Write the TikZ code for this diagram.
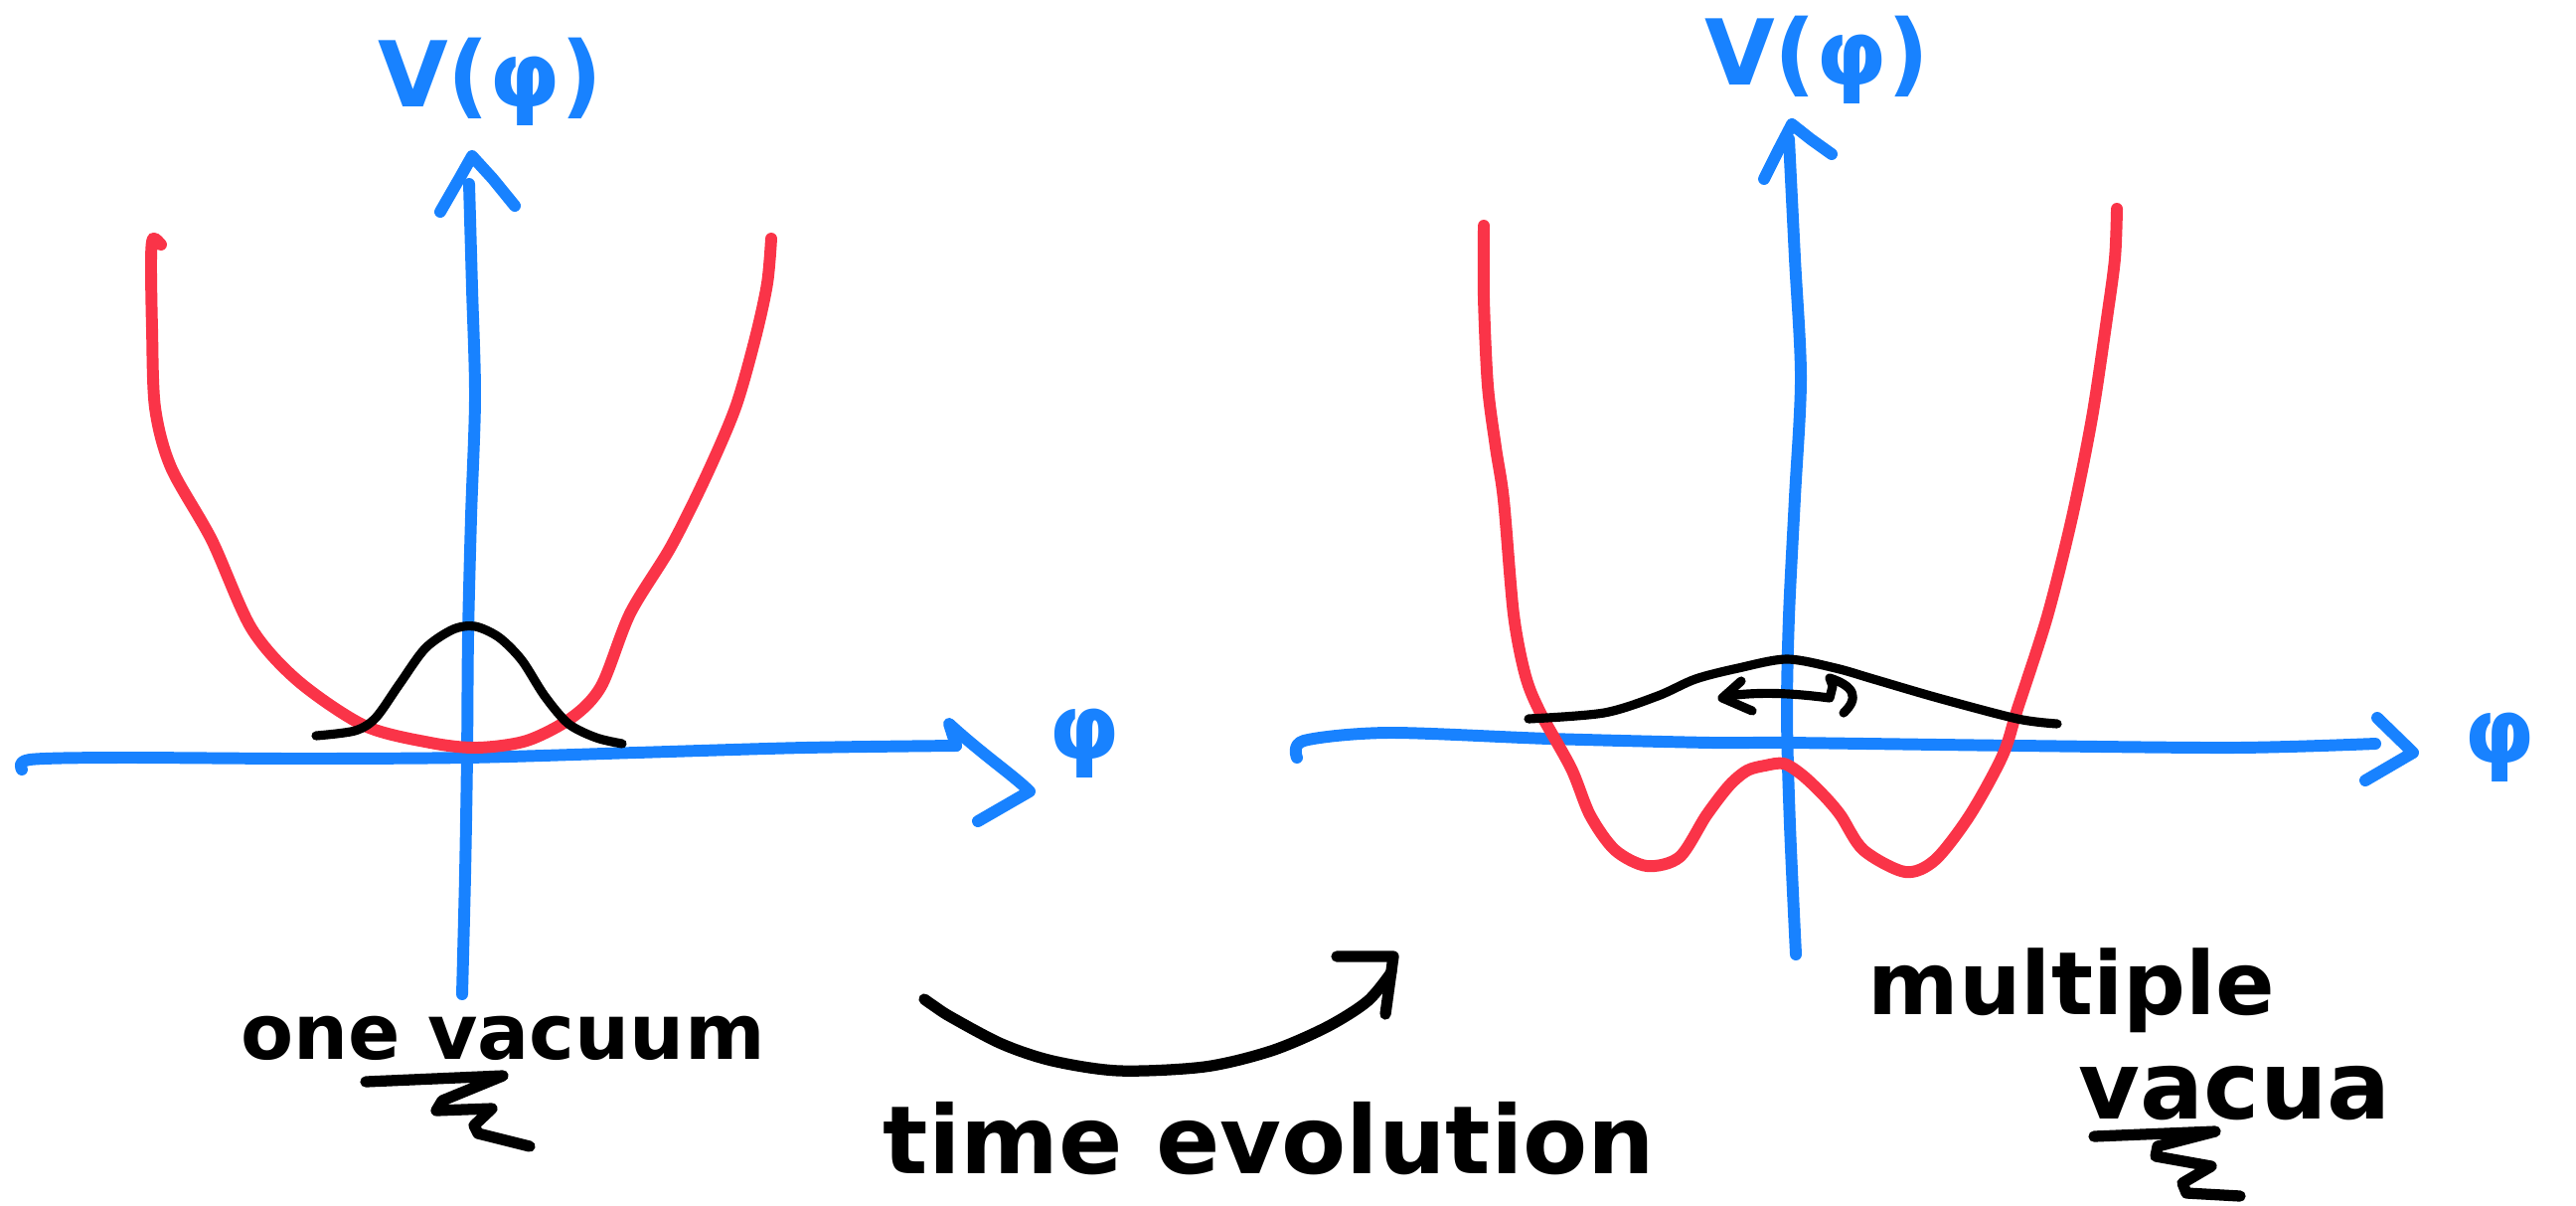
\documentclass[tikz,border=0pt]{standalone}
\usepackage{fontspec}
\newfontfamily\handfont{DejaVu Sans}
\definecolor{axisblue}{RGB}{24,130,255}
\definecolor{potred}{RGB}{250,52,72}
\tikzset{
  axisline/.style={draw=axisblue,line width=3.4pt,line cap=round,line join=round},
  potline/.style={draw=potred,line width=3.4pt,line cap=round,line join=round},
  waveline/.style={draw=black,line width=2.6pt,line cap=round,line join=round},
  inkline/.style={draw=black,line width=3.2pt,line cap=round,line join=round},
  bluelab/.style={text=axisblue,font=\handfont\bfseries\fontsize{26}{30}\selectfont,inner sep=0pt},
  capt/.style={text=black,font=\handfont\bfseries\fontsize{#1}{#1}\selectfont,inner sep=0pt},
}
\begin{document}
\begin{tikzpicture}[x=0.01cm,y=-0.01cm]
  \useasboundingbox (0,0) rectangle (2592,1212);
  \node[bluelab] (vlabL) at (493,82) {V(φ)};
  \draw[axisline] plot[smooth] coordinates {(472,185) (475,290) (478,400) (474,520) (471,640) (470,760) (468,880) (465,1000)};
  \draw[axisline] (443,213) -- (462,180) -- (475,157) -- (496,180) -- (518,207);
  \draw[axisline] plot[smooth] coordinates {(22,774) (30,764) (120,762) (300,763) (470,762) (640,757) (810,752) (962,750)};
  \draw[axisline] (962,750) -- (955,728) .. controls (990,760) and (1020,780) .. (1036,796) -- (984,826);
  \node[bluelab] (phiL) at (1091,748) {φ};
  \draw[potline] plot[smooth] coordinates {(162,246) (154,240) (152,262) (153,330) (156,410) (172,470) (213,543) (253,632) (300,685) (367,730) (433,747) (480,752) (530,745) (575,722) (605,690) (634,617) (675,550) (710,480) (740,410) (760,340) (772,285) (776,240)};
  \draw[waveline] plot[smooth] coordinates {(318,740) (357,735) (378,722) (402,688) (428,652) (456,633) (478,630) (502,641) (525,664) (548,700) (572,728) (600,742) (626,748)};
  \node[capt=22,anchor=base west] (oneVac) at (242,1065) {one vacuum};
  \draw[inkline] (368,1088) -- (506,1082) -- (445,1107) -- (439,1117) -- (495,1115) -- (477,1132) -- (481,1140) -- (533,1153);
  \draw[inkline] plot[smooth] coordinates {(930,1005) (940,1012) (957,1023) (1008,1050) (1059,1067) (1126,1077) (1212,1073) (1279,1057) (1335,1033) (1376,1007) (1400,978)};
  \draw[inkline] (1345,962) -- (1402,962) -- (1394,1020);
  \node[capt=27,anchor=base west] (timeEvo) at (888,1180) {time evolution};
  \node[bluelab] (vlabR) at (1828,60) {V(φ)};
  \draw[axisline] plot[smooth] coordinates {(1800,140) (1806,260) (1812,380) (1806,500) (1800,620) (1798,720) (1801,830) (1807,960)};
  \draw[axisline] (1775,180) -- (1790,150) -- (1803,125) -- (1822,140) -- (1843,155);
  \draw[axisline] plot[smooth] coordinates {(1305,762) (1312,745) (1397,737) (1559,743) (1722,747) (1798,747) (2030,750) (2250,752) (2390,748)};
  \draw[axisline] (2392,722) -- (2428,757) -- (2380,785);
  \node[bluelab] (phiR) at (2515,752) {φ};
  \draw[potline] plot[smooth] coordinates {(1493,227) (1493,300) (1497,388) (1505,450) (1513,503) (1523,618) (1535,680) (1550,717) (1581,773) (1600,820) (1625,855) (1657,871) (1690,862) (1717,820) (1740,790) (1758,775) (1776,770) (1795,768) (1814,780) (1835,800) (1852,820) (1875,855) (1917,877) (1947,865) (1982,820) (2015,760) (2030,713) (2060,620) (2085,520) (2105,420) (2120,320) (2128,260) (2130,210)};
  \draw[waveline] plot[smooth] coordinates {(1538,723) (1614,717) (1668,700) (1706,683) (1749,672) (1798,663) (1847,672) (1885,683) (1950,702) (2030,723) (2070,728)};
  \draw[waveline] (1752,685) -- (1733,702) -- (1763,715);
  \draw[waveline] (1738,700) .. controls (1775,695) and (1810,698) .. (1841,702) -- (1844,690) -- (1841,682) .. controls (1866,690) and (1871,702) .. (1855,717);
  \node[capt=25,anchor=base west] (multi) at (1879,1020) {multiple};
  \node[capt=27,anchor=base west] (vacua) at (2091,1125) {vacua};
  \draw[inkline] (2107,1143) -- (2229,1138) -- (2171,1153) -- (2169,1163) -- (2225,1173) -- (2196,1190) -- (2200,1200) -- (2254,1203);
\end{tikzpicture}
\end{document}
